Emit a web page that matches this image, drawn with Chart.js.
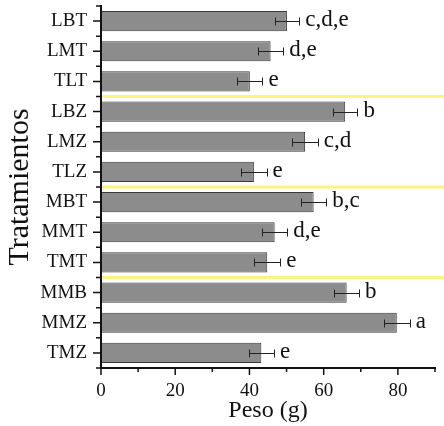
<!DOCTYPE html>
<html><head><meta charset="utf-8">
<script src="https://cdn.jsdelivr.net/npm/chart.js@4.4.1/dist/chart.umd.min.js"></script>
<style>html,body{margin:0;padding:0;background:#fff}</style>
</head><body>
<canvas id="c" width="444" height="426" style="display:block;width:444px;height:426px"></canvas>
<script>
// ---- data ----
const categorias = ['LBT','LMT','TLT','LBZ','LMZ','TLZ','MBT','MMT','TMT','MMB','MMZ','TMZ'];
const pesos      = [50.1, 45.7, 40.1, 65.8, 55.0, 41.2, 57.3, 46.8, 44.8, 66.2, 79.7, 43.2];
const errores    = [3.3, 3.4, 3.4, 3.3, 3.4, 3.4, 3.4, 3.4, 3.5, 3.3, 3.5, 3.4];
const letras     = ['c,d,e','d,e','e','b','c,d','e','b,c','d,e','e','b','a','e'];
const separadores = ['TLT','TLZ','TMT'];
const xTicksMayores = [0, 20, 40, 60, 80];
const xMax = 90;
const xPaso = 10;
const tituloX = 'Peso (g)';
const tituloY = 'Tratamientos';

const SERIF = '"Liberation Serif","DejaVu Serif",serif';
const INK = '#111';

const overlay = {
  id: 'overlay',
  afterDatasetsDraw(chart) {
    const ctx = chart.ctx, xs = chart.scales.x, ys = chart.scales.y, a = chart.chartArea;
    ctx.save();
    // group separators
    ctx.strokeStyle = '#fcf47c';
    ctx.lineWidth = 3;
    separadores.forEach(cat => {
      const i = categorias.indexOf(cat);
      const y = (ys.getPixelForValue(i) + ys.getPixelForValue(i + 1)) / 2;
      ctx.beginPath(); ctx.moveTo(a.left, y); ctx.lineTo(chart.width, y); ctx.stroke();
    });
    // error bars
    ctx.strokeStyle = '#222';
    ctx.lineWidth = 1;
    pesos.forEach((v, i) => {
      const y = Math.round(ys.getPixelForValue(i)) + 0.5;
      const x0 = Math.round(xs.getPixelForValue(v - errores[i])) + 0.5;
      const x1 = Math.round(xs.getPixelForValue(v + errores[i])) + 0.5;
      ctx.beginPath();
      ctx.moveTo(x0, y); ctx.lineTo(x1, y);
      ctx.moveTo(x0, y - 4); ctx.lineTo(x0, y + 4);
      ctx.moveTo(x1, y - 4); ctx.lineTo(x1, y + 4);
      ctx.stroke();
    });
    // significance letters
    ctx.fillStyle = INK;
    ctx.font = '23px ' + SERIF;
    ctx.textAlign = 'left';
    ctx.textBaseline = 'alphabetic';
    letras.forEach((t, i) => {
      const y = ys.getPixelForValue(i);
      const x = xs.getPixelForValue(pesos[i] + errores[i]);
      ctx.fillText(t, x + 6, y + 5);
    });
    // axes
    ctx.strokeStyle = INK;
    ctx.lineWidth = 2;
    ctx.beginPath();
    ctx.moveTo(a.left, a.top - 1); ctx.lineTo(a.left, a.bottom + 1);
    ctx.moveTo(a.left - 1, a.bottom); ctx.lineTo(a.right + 1, a.bottom);
    ctx.stroke();
    // y ticks: major at centers, minor at boundaries
    ctx.lineWidth = 1.5;
    ctx.beginPath();
    categorias.forEach((c, i) => {
      const y = ys.getPixelForValue(i);
      ctx.moveTo(a.left - 8, y); ctx.lineTo(a.left, y);
    });
    for (let i = 0; i <= categorias.length; i++) {
      const y = ys.getPixelForValue(i - 0.5);
      ctx.moveTo(a.left - 5, y); ctx.lineTo(a.left, y);
    }
    // x ticks
    for (let v = 0; v <= xMax; v += xPaso) {
      const x = xs.getPixelForValue(v);
      const len = xTicksMayores.includes(v) ? 7 : 4;
      ctx.moveTo(x, a.bottom); ctx.lineTo(x, a.bottom + len);
    }
    ctx.stroke();
    ctx.restore();
  }
};

new Chart(document.getElementById('c'), {
  type: 'bar',
  data: {
    labels: categorias,
    datasets: [{
      data: pesos,
      backgroundColor: '#8c8c8c',
      borderColor: '#3a3a3a',
      borderWidth: 1,
      borderSkipped: false,
      barPercentage: 0.67,
      categoryPercentage: 1
    }]
  },
  options: {
    indexAxis: 'y',
    responsive: false,
    animation: false,
    devicePixelRatio: 1,
    layout: { padding: { top: 6, right: 9, left: 0, bottom: 0 } },
    plugins: { legend: { display: false }, tooltip: { enabled: false } },
    scales: {
      x: {
        type: 'linear', min: 0, max: xMax,
        grid: { display: false },
        border: { display: false },
        ticks: {
          stepSize: xPaso, autoSkip: false, maxRotation: 0, padding: 4,
          color: INK, font: { family: SERIF, size: 19 },
          callback: v => xTicksMayores.includes(v) ? String(v) : ''
        },
        title: { display: true, text: tituloX, color: INK, font: { family: SERIF, size: 24 }, padding: { top: 0, bottom: 1 } },
        afterFit: s => { s.height = 58; s.paddingLeft = 0; s.paddingRight = 0; }
      },
      y: {
        grid: { display: false },
        border: { display: false },
        ticks: { color: INK, padding: 6, font: { family: SERIF, size: 19 } },
        title: { display: true, text: tituloY, color: INK, font: { family: SERIF, size: 30 }, padding: { top: 2, bottom: 0 } },
        afterFit: s => { s.width = 101; s.paddingTop = 0; s.paddingBottom = 0; }
      }
    }
  },
  plugins: [overlay]
});
</script>
</body></html>
